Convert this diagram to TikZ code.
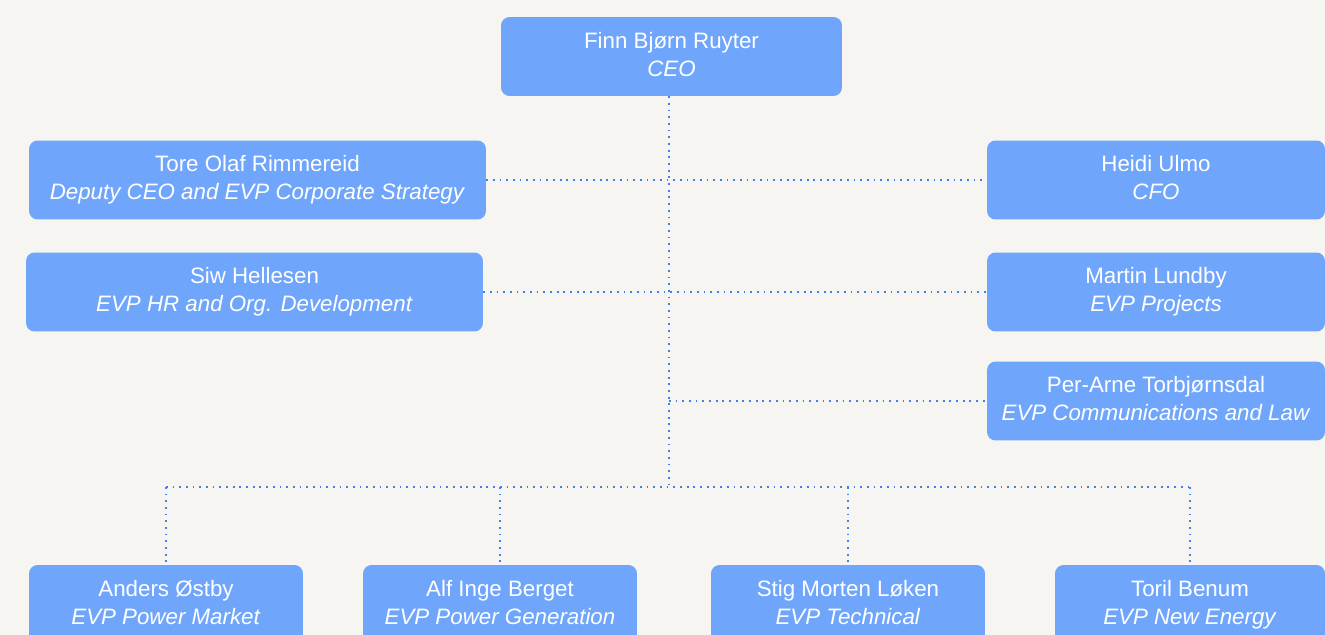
\documentclass[tikz,border=0pt]{standalone}
\usepackage{fontspec}
\setmainfont{Liberation Sans}
\definecolor{paper}{HTML}{F6F5F1}
\definecolor{boxblue}{HTML}{6FA6FC}
\definecolor{lineblue}{HTML}{3F80EC}
\newcommand{\who}[2]{\strut #1\\\strut\textit{#2}}

\begin{document}
\begin{tikzpicture}[x=0.02cm, y=-0.02cm,
  person/.style = {fill=boxblue, text=white, rounded corners=0.17cm, align=center,
    minimum height=1.58cm, inner sep=0pt, font=\fontsize{12.7}{15.9}\selectfont},
  link/.style = {lineblue, line width=1pt, dash pattern=on 1pt off 2.8pt}]
\fill[paper] (0,0) rectangle (1325,635);
\clip (0,0) rectangle (1325,635);

% top
\node[person, minimum width=6.82cm] (ceo) at (671.5,56.5) {\who{Finn Bjørn Ruyter}{CEO}};

% staff
\node[person, minimum width=9.14cm] (tore) at (257.5,180) {\who{Tore Olaf Rimmereid}{Deputy CEO and EVP Corporate Strategy}};
\node[person, minimum width=6.76cm] (heidi) at (1156,180) {\who{Heidi Ulmo}{CFO}};
\node[person, minimum width=9.14cm] (siw) at (254.5,292) {\who{Siw Hellesen}{EVP HR and Org. Development}};
\node[person, minimum width=6.76cm] (martin) at (1156,292) {\who{Martin Lundby}{EVP Projects}};
\node[person, minimum width=6.76cm] (perarne) at (1156,401) {\who{Per-Arne Torbjørnsdal}{EVP Communications and Law}};

% line units
\node[person, minimum width=5.48cm] (anders) at (166,604.5) {\who{Anders Østby}{EVP Power Market}};
\node[person, minimum width=5.48cm] (alf) at (500,604.5) {\who{Alf Inge Berget}{EVP Power Generation}};
\node[person, minimum width=5.48cm] (stig) at (848,604.5) {\who{Stig Morten Løken}{EVP Technical}};
\node[person, minimum width=5.4cm] (toril) at (1190,604.5) {\who{Toril Benum}{EVP New Energy}};

\coordinate (bus) at (669,487);

% connectors
\draw[link] (ceo.south -| bus) -- (bus);
\draw[link] (tore.east) -- (heidi.west);
\draw[link] (siw.east) -- (martin.west);
\draw[link] (bus |- perarne.west) -- (perarne.west);
\draw[link] (anders.north |- bus) -- (toril.north |- bus);
\draw[link] (anders.north |- bus) -- (anders.north);
\draw[link] (alf.north |- bus) -- (alf.north);
\draw[link] (stig.north |- bus) -- (stig.north);
\draw[link] (toril.north |- bus) -- (toril.north);
\end{tikzpicture}
\end{document}
